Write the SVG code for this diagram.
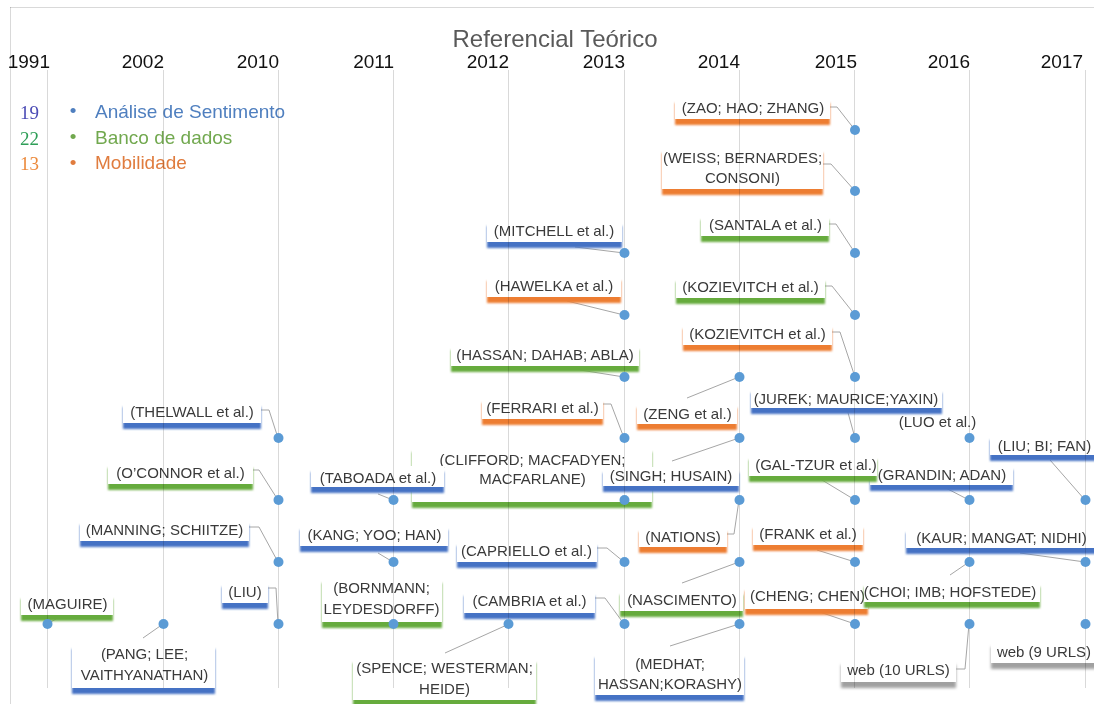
<svg xmlns="http://www.w3.org/2000/svg" width="1094" height="704" viewBox="0 0 1094 704">
<defs>
<style>
.t{font-family:"Liberation Sans",Arial,sans-serif;font-size:15px;fill:#3a3a3a;text-anchor:middle}
.yr{font-family:"Liberation Sans",Arial,sans-serif;font-size:19px;fill:#111111;text-anchor:end}
.box{fill:#ffffff}
.b{filter:url(#sB)}
.g{filter:url(#sG)}
.o{filter:url(#sO)}
.w{filter:url(#sW)}
.grid line{stroke:#d9d9d9;stroke-width:1;mix-blend-mode:multiply}
.conn polyline{fill:none;stroke:#a6a6a6;stroke-width:1}
.pt circle{fill:#5b9bd5}
.leg{font-family:"Liberation Sans",Arial,sans-serif;font-size:19px}
.num{font-family:"Liberation Serif","Times New Roman",serif;font-size:19px}
</style>
<filter id="sB" x="-0.1" y="-0.3" width="1.2" height="1.9"><feDropShadow dx="0" dy="6" stdDeviation="1.3" flood-color="#4472c4"/></filter>
<filter id="sG" x="-0.1" y="-0.3" width="1.2" height="1.9"><feDropShadow dx="0" dy="6" stdDeviation="1.3" flood-color="#66ab3e"/></filter>
<filter id="sO" x="-0.1" y="-0.3" width="1.2" height="1.9"><feDropShadow dx="0" dy="6" stdDeviation="1.3" flood-color="#ed7d31"/></filter>
<filter id="sW" x="-0.1" y="-0.3" width="1.2" height="1.9"><feDropShadow dx="0" dy="6" stdDeviation="1.5" flood-color="#a0a0a0"/></filter>
</defs>
<rect width="1094" height="704" fill="#ffffff"/>

<g id="title">
<text x="555" y="47" font-family="Liberation Sans, Arial, sans-serif" font-size="24" fill="#595959" text-anchor="middle">Referencial Teórico</text>
</g>

<g id="years">
<text class="yr" x="50" y="68">1991</text>
<text class="yr" x="164" y="68">2002</text>
<text class="yr" x="279" y="68">2010</text>
<text class="yr" x="394" y="68">2011</text>
<text class="yr" x="509" y="68">2012</text>
<text class="yr" x="625" y="68">2013</text>
<text class="yr" x="740" y="68">2014</text>
<text class="yr" x="857" y="68">2015</text>
<text class="yr" x="970" y="68">2016</text>
<text class="yr" x="1083" y="68">2017</text>
</g>

<g id="legend">
<text class="num" x="20" y="119" fill="#4b4bb5">19</text>
<text class="num" x="20" y="145" fill="#2e9e57">22</text>
<text class="num" x="20" y="170" fill="#ec8a3c">13</text>
<text class="leg" x="73" y="117" text-anchor="middle" fill="#4f7fbf">•</text>
<text class="leg" x="73" y="143" text-anchor="middle" fill="#71a84e">•</text>
<text class="leg" x="73" y="169" text-anchor="middle" fill="#e07c3e">•</text>
<text class="leg" x="95" y="118" fill="#4f7fbf">Análise de Sentimento</text>
<text class="leg" x="95" y="144" fill="#71a84e">Banco de dados</text>
<text class="leg" x="95" y="169" fill="#e07c3e">Mobilidade</text>
</g>

<g id="connectors" class="conn">
<polyline points="830,107 837,107 855,130"/>
<polyline points="823,164 831,164 855,191"/>
<polyline points="829,224 836,224 855,253"/>
<polyline points="575,247 624,253"/>
<polyline points="567,301 624,315"/>
<polyline points="580,370 624,377"/>
<polyline points="603,404 611,404 624,438"/>
<polyline points="687,398 739,377"/>
<polyline points="825,286 832,286 855,315"/>
<polyline points="832,332 840,332 855,377"/>
<polyline points="261,410 269,410 278,438"/>
<polyline points="253,470 259,470 278,500"/>
<polyline points="249,527 259,527 278,562"/>
<polyline points="268,588 276,588 278,624"/>
<polyline points="56,619 47,624"/>
<polyline points="143,638 163,624"/>
<polyline points="378,494 393,500"/>
<polyline points="378,553 393,562"/>
<polyline points="672,461 739,438"/>
<polyline points="727,534 734,534 739,500"/>
<polyline points="847,409 855,438"/>
<polyline points="1050,460 1085,500"/>
<polyline points="817,477 855,500"/>
<polyline points="940,485 969,500"/>
<polyline points="817,550 855,562"/>
<polyline points="1020,553 1085,562"/>
<polyline points="950,575 969,562"/>
<polyline points="808,608 855,624"/>
<polyline points="956,669 965,669 969,624"/>
<polyline points="682,583 739,562"/>
<polyline points="670,646 739,624"/>
<polyline points="597,548 607,548 624,562"/>
<polyline points="595,598 605,598 624,624"/>
<polyline points="445,653 509,624"/>
</g>

<g id="n-zao"><rect class="box o" x="675" y="97" width="155" height="22"/><text class="t" x="753" y="113">(ZAO; HAO; ZHANG)</text></g>
<g id="n-weiss"><rect class="box o" x="662" y="147" width="161" height="42"/><text class="t" x="742.5" y="163">(WEISS; BERNARDES;</text><text class="t" x="742.5" y="183">CONSONI)</text></g>
<g id="n-santala"><rect class="box g" x="701" y="214" width="128" height="22"/><text class="t" x="765.5" y="230">(SANTALA et al.)</text></g>
<g id="n-mitchell"><rect class="box b" x="487" y="220" width="135" height="22"/><text class="t" x="554" y="236">(MITCHELL et al.)</text></g>
<g id="n-hawelka"><rect class="box o" x="487" y="275" width="134" height="22"/><text class="t" x="554" y="291">(HAWELKA et al.)</text></g>
<g id="n-kozievitch-g"><rect class="box g" x="676" y="276" width="149" height="22"/><text class="t" x="750.5" y="292">(KOZIEVITCH et al.)</text></g>
<g id="n-kozievitch-o"><rect class="box o" x="683" y="323" width="149" height="22"/><text class="t" x="757.5" y="339">(KOZIEVITCH et al.)</text></g>
<g id="n-hassan"><rect class="box g" x="451" y="344" width="188" height="22"/><text class="t" x="545" y="360">(HASSAN; DAHAB; ABLA)</text></g>
<g id="n-ferrari"><rect class="box o" x="482" y="397" width="121" height="22"/><text class="t" x="542.5" y="413">(FERRARI et al.)</text></g>
<g id="n-zeng"><rect class="box o" x="637" y="402" width="100" height="22"/><text class="t" x="687.5" y="419">(ZENG et al.)</text></g>
<g id="n-thelwall"><rect class="box b" x="123" y="401" width="138" height="22"/><text class="t" x="192" y="417">(THELWALL et al.)</text></g>
<g id="n-jurek"><rect class="box b" x="751" y="387" width="191" height="21"/><text class="t" x="846" y="404">(JUREK; MAURICE;YAXIN)</text></g>
<g id="n-luo"><text class="t" x="937.5" y="427">(LUO et al.)</text></g>
<g id="n-liubifan"><rect class="box b" x="990" y="434" width="110" height="21"/><text class="t" x="1044.5" y="451">(LIU; BI; FAN)</text></g>
<g id="n-grandin"><rect class="box b" x="870" y="464" width="143" height="21"/><text class="t" x="942" y="480">(GRANDIN; ADAN)</text></g>
<g id="n-galtzur"><rect class="box g" x="749" y="454" width="128" height="22"/><text class="t" x="816" y="470">(GAL-TZUR et al.)</text></g>
<g id="n-clifford"><rect class="box g" x="412" y="446" width="240" height="56"/><text class="t" x="532.5" y="465">(CLIFFORD; MACFADYEN;</text><text class="t" x="532.5" y="484">MACFARLANE)</text></g>
<g id="n-singh"><rect class="box b" x="603" y="467" width="136" height="19"/><text class="t" x="671" y="481">(SINGH; HUSAIN)</text></g>
<g id="n-oconnor"><rect class="box g" x="108" y="462" width="145" height="22"/><text class="t" x="180.5" y="478">(O’CONNOR et al.)</text></g>
<g id="n-taboada"><rect class="box b" x="311" y="466" width="133" height="21"/><text class="t" x="378" y="483">(TABOADA et al.)</text></g>
<g id="n-manning"><rect class="box b" x="80" y="519" width="169" height="22"/><text class="t" x="164.5" y="535">(MANNING; SCHIITZE)</text></g>
<g id="n-kang"><rect class="box b" x="300" y="524" width="148" height="22"/><text class="t" x="374.5" y="540">(KANG; YOO; HAN)</text></g>
<g id="n-capriello"><rect class="box b" x="457" y="540" width="140" height="22"/><text class="t" x="526.5" y="556">(CAPRIELLO et al.)</text></g>
<g id="n-nations"><rect class="box o" x="639" y="526" width="88" height="21"/><text class="t" x="683" y="542">(NATIONS)</text></g>
<g id="n-frank"><rect class="box o" x="753" y="523" width="110" height="22"/><text class="t" x="808" y="539">(FRANK et al.)</text></g>
<g id="n-kaur"><rect class="box b" x="906" y="527" width="194" height="21"/><text class="t" x="1001.5" y="543">(KAUR; MANGAT; NIDHI)</text></g>
<g id="n-liu"><rect class="box b" x="222" y="581" width="46" height="22"/><text class="t" x="245" y="597">(LIU)</text></g>
<g id="n-maguire"><rect class="box g" x="21" y="593" width="92" height="22"/><text class="t" x="67.5" y="609">(MAGUIRE)</text></g>
<g id="n-bornmann"><rect class="box g" x="322" y="577" width="120" height="45"/><text class="t" x="381.5" y="593">(BORNMANN;</text><text class="t" x="381.5" y="614">LEYDESDORFF)</text></g>
<g id="n-cambria"><rect class="box b" x="464" y="590" width="131" height="23"/><text class="t" x="529.5" y="606">(CAMBRIA et al.)</text></g>
<g id="n-nascimento"><rect class="box g" x="620" y="589" width="123" height="22"/><text class="t" x="682" y="605">(NASCIMENTO)</text></g>
<g id="n-cheng"><rect class="box o" x="745" y="585" width="123" height="24"/><text class="t" x="807.5" y="601">(CHENG; CHEN)</text></g>
<g id="n-choi"><rect class="box g" x="864" y="581" width="176" height="21"/><text class="t" x="950" y="597">(CHOI; IMB; HOFSTEDE)</text></g>
<g id="n-pang"><rect class="box b" x="72" y="643" width="143" height="45"/><text class="t" x="144.5" y="659">(PANG; LEE;</text><text class="t" x="144.5" y="680">VAITHYANATHAN)</text></g>
<g id="n-spence"><rect class="box g" x="353" y="657" width="183" height="43"/><text class="t" x="444.5" y="673">(SPENCE; WESTERMAN;</text><text class="t" x="444.5" y="694">HEIDE)</text></g>
<g id="n-medhat"><rect class="box b" x="595" y="652" width="149" height="43"/><text class="t" x="670" y="669">(MEDHAT;</text><text class="t" x="670" y="689">HASSAN;KORASHY)</text></g>
<g id="n-web10"><rect class="box w" x="841" y="659" width="115" height="23"/><text class="t" x="898.5" y="675">web (10 URLS)</text></g>
<g id="n-web9"><rect class="box w" x="991" y="641" width="109" height="22"/><text class="t" x="1044" y="657">web (9 URLS)</text></g>

<g id="grid" class="grid">
<line x1="10" y1="7.5" x2="1094" y2="7.5"/>
<line x1="10.5" y1="7" x2="10.5" y2="704"/>
<line x1="47.5" y1="70" x2="47.5" y2="688"/>
<line x1="163.5" y1="70" x2="163.5" y2="688"/>
<line x1="278.5" y1="70" x2="278.5" y2="688"/>
<line x1="393.5" y1="70" x2="393.5" y2="688"/>
<line x1="508.5" y1="70" x2="508.5" y2="688"/>
<line x1="624.5" y1="70" x2="624.5" y2="688"/>
<line x1="739.5" y1="70" x2="739.5" y2="688"/>
<line x1="854.5" y1="70" x2="854.5" y2="688"/>
<line x1="969.5" y1="70" x2="969.5" y2="688"/>
<line x1="1085.5" y1="70" x2="1085.5" y2="688"/>
</g>

<g id="points" class="pt">
<circle cx="855" cy="130" r="5"/><circle cx="855" cy="191" r="5"/><circle cx="855" cy="253" r="5"/><circle cx="855" cy="315" r="5"/><circle cx="855" cy="377" r="5"/><circle cx="855" cy="438" r="5"/><circle cx="855" cy="500" r="5"/><circle cx="855" cy="562" r="5"/><circle cx="855" cy="624" r="5"/>
<circle cx="739.5" cy="377" r="5"/><circle cx="739.5" cy="438" r="5"/><circle cx="739.5" cy="500" r="5"/><circle cx="739.5" cy="562" r="5"/><circle cx="739.5" cy="624" r="5"/>
<circle cx="624.5" cy="253" r="5"/><circle cx="624.5" cy="315" r="5"/><circle cx="624.5" cy="377" r="5"/><circle cx="624.5" cy="438" r="5"/><circle cx="624.5" cy="500" r="5"/><circle cx="624.5" cy="562" r="5"/><circle cx="624.5" cy="624" r="5"/>
<circle cx="508.5" cy="624" r="5"/>
<circle cx="393.5" cy="500" r="5"/><circle cx="393.5" cy="562" r="5"/><circle cx="393.5" cy="624" r="5"/>
<circle cx="278.5" cy="438" r="5"/><circle cx="278.5" cy="500" r="5"/><circle cx="278.5" cy="562" r="5"/><circle cx="278.5" cy="624" r="5"/>
<circle cx="163.5" cy="624" r="5"/>
<circle cx="47.5" cy="624" r="5"/>
<circle cx="969.5" cy="438" r="5"/><circle cx="969.5" cy="500" r="5"/><circle cx="969.5" cy="562" r="5"/><circle cx="969.5" cy="624" r="5"/>
<circle cx="1085.5" cy="500" r="5"/><circle cx="1085.5" cy="562" r="5"/><circle cx="1085.5" cy="624" r="5"/>
</g>
</svg>
